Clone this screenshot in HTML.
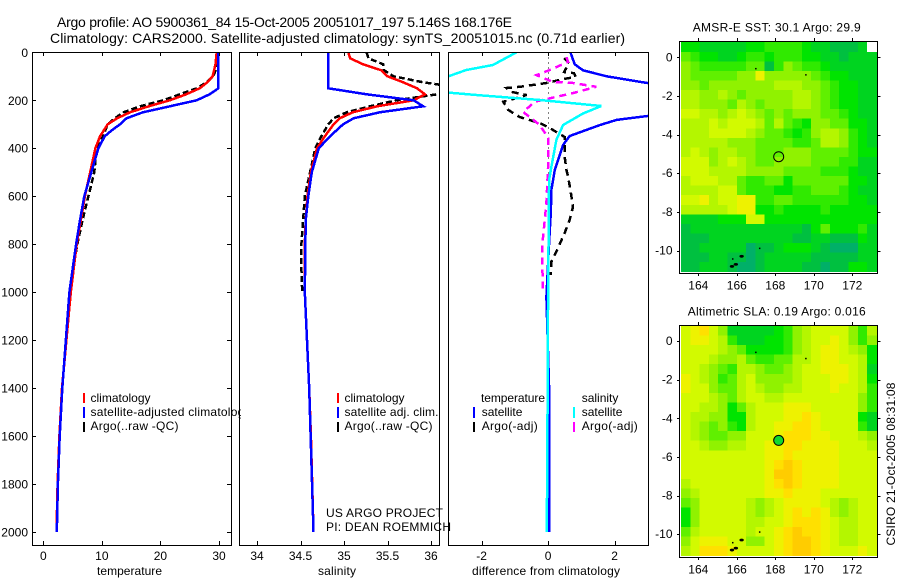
<!DOCTYPE html>
<html lang="en">
<head>
<meta charset="utf-8">
<title>Argo profile 5900361_84</title>
<style>
html,body{margin:0;padding:0;background:#fff;}
#figure{display:block;width:900px;height:580px;}
text{font-family:"Liberation Sans",sans-serif;font-size:12px;fill:#000;}
.title{font-size:14px;}
.frame{fill:none;stroke:#000;stroke-width:1;shape-rendering:crispEdges;}
.bg{fill:#fff;stroke:none;}
.tick{stroke:#000;stroke-width:1;shape-rendering:crispEdges;}
.line{fill:none;stroke-width:2.5;shape-rendering:crispEdges;stroke-linejoin:miter;}
.mark{stroke-width:2;shape-rendering:crispEdges;}
</style>
</head>
<body>
<svg id="figure" xmlns="http://www.w3.org/2000/svg" width="900" height="580" viewBox="0 0 900 580">
  <defs>
    <clipPath id="clip-p1"><rect x="32" y="52" width="199" height="493"/></clipPath>
    <clipPath id="clip-p2"><rect x="239.5" y="52" width="199.5" height="493"/></clipPath>
    <clipPath id="clip-p3"><rect x="448.5" y="52" width="200" height="493"/></clipPath>
    <clipPath id="clip-legend1"><rect x="80" y="385" width="161" height="55"/></clipPath>
  </defs>
  <rect x="0" y="0" width="900" height="580" fill="#fff"/>

  <text class="title" x="57" y="27" textLength="455">Argo profile: AO 5900361_84 15-Oct-2005 20051017_197 5.146S 168.176E</text>
  <text class="title" x="50" y="43" textLength="575">Climatology: CARS2000. Satellite-adjusted climatology: synTS_20051015.nc (0.71d earlier)</text>

  <g id="panel-temperature">
    <g id="p1-lines" clip-path="url(#clip-p1)"></g>
    <g id="p1-ticks"></g>
    <rect class="frame" x="32.5" y="52.5" width="199" height="493"/>
    <text x="97" y="575" textLength="65">temperature</text>
  </g>

  <g id="panel-salinity">
    <rect class="bg" x="239.5" y="52" width="200" height="493"/>
    <g id="p2-lines" clip-path="url(#clip-p2)"></g>
    <g id="p2-ticks"></g>
    <rect class="frame" x="239.5" y="52.5" width="200" height="493"/>
    <text x="318" y="575" textLength="38">salinity</text>
  </g>

  <g id="panel-difference">
    <rect class="bg" x="448.5" y="52" width="200" height="493"/>
    <g id="p3-lines" clip-path="url(#clip-p3)"></g>
    <g id="p3-ticks"></g>
    <rect class="frame" x="448.5" y="52.5" width="200" height="493"/>
    <text x="472" y="575" textLength="148">difference from climatology</text>
  </g>

  <g>
    <line class="mark" x1="84" y1="393" x2="84" y2="403" stroke="#f00"/>
    <line class="mark" x1="84" y1="407" x2="84" y2="418" stroke="#00f"/>
    <line class="mark" x1="84" y1="422" x2="84" y2="432" stroke="#000"/>
    <text x="90.5" y="402">climatology</text>
    <g clip-path="url(#clip-legend1)">
      <text x="90.5" y="416" textLength="160">satellite-adjusted climatology</text>
    </g>
    <text x="90.5" y="430" textLength="88">Argo(..raw -QC)</text>
  </g>

  <g>
    <line class="mark" x1="338" y1="393" x2="338" y2="403" stroke="#f00"/>
    <line class="mark" x1="338" y1="407" x2="338" y2="418" stroke="#00f"/>
    <line class="mark" x1="338" y1="422" x2="338" y2="432" stroke="#000"/>
    <text x="344.5" y="402">climatology</text>
    <text x="344.5" y="416" textLength="94">satellite adj. clim.</text>
    <text x="344.5" y="430" textLength="88">Argo(..raw -QC)</text>
    <text x="326" y="517" textLength="117">US ARGO PROJECT</text>
    <text x="326" y="531" textLength="125">PI: DEAN ROEMMICH</text>
  </g>

  <g>
    <text x="481" y="402" textLength="64">temperature</text>
    <line class="mark" x1="474" y1="407" x2="474" y2="418" stroke="#00f"/>
    <line class="mark" x1="474" y1="422" x2="474" y2="432" stroke="#000"/>
    <text x="481.7" y="416">satellite</text>
    <text x="481.7" y="430" textLength="56">Argo(-adj)</text>
    <text x="581.7" y="402">salinity</text>
    <line class="mark" x1="574" y1="407" x2="574" y2="418" stroke="#0ff"/>
    <line class="mark" x1="574" y1="422" x2="574" y2="432" stroke="#f0f"/>
    <text x="581.7" y="416">satellite</text>
    <text x="581.7" y="430" textLength="56">Argo(-adj)</text>
  </g>

  <text x="692.7" y="31.5" textLength="168">AMSR-E SST: 30.1 Argo: 29.9</text>
  <g id="map-sst"></g>
  <text x="687.7" y="315.5" textLength="178">Altimetric SLA: 0.19 Argo: 0.016</text>
  <g id="map-sla"></g>
  <text transform="translate(895,545.5) rotate(-90)" textLength="163">CSIRO 21-Oct-2005 08:31:08</text>
</svg>

<script>
// ---- depth axis ----
const depthTicks = [0, 200, 400, 600, 800, 1000, 1200, 1400, 1600, 1800, 2000];
const tempTicks = [0, 10, 20, 30];
const salTicks = [34, 34.5, 35, 35.5, 36];
const salTickLabels = ['34', '34.5', '35', '35.5', '36'];
const diffTicks = [-2, 0, 2];

// ---- temperature panel ----
const tempClimDepth = [0, 50, 100, 125, 150, 175, 200, 225, 250, 275, 300, 350, 400, 500, 600, 700, 800, 1000, 1400, 1600, 1800, 2000];
const tempClim = [29.6, 29.4, 28.9, 28.0, 26.7, 24.4, 21.6, 18.0, 14.8, 12.6, 11.0, 9.7, 8.9, 8.0, 7.1, 6.4, 5.7, 4.7, 3.2, 2.75, 2.45, 2.25];
const tempSatDepth = [0, 150, 175, 200, 225, 250, 275, 300, 325, 350, 400, 500, 600, 700, 800, 1000, 1400, 1600, 1800, 2000];
const tempSat = [29.9, 29.9, 28.4, 26.2, 21.6, 17.0, 14.2, 13.1, 11.7, 10.5, 9.4, 8.2, 7.0, 6.26, 5.6, 4.45, 3.25, 2.8, 2.5, 2.3];
const tempArgoDepth = [0, 60, 100, 125, 150, 175, 200, 225, 250, 275, 300, 350, 400, 500, 600, 700, 800, 930];
const tempArgo = [29.8, 29.7, 29.0, 27.9, 26.2, 23.3, 20.5, 16.5, 13.7, 12.2, 11.0, 10.2, 9.1, 8.7, 7.7, 6.7, 5.8, 4.9];

// ---- salinity panel ----
const salClimDepth = [0, 25, 50, 75, 100, 125, 150, 175, 200, 225, 250, 275, 300, 350, 400, 500, 600, 700, 800, 1000, 1400, 1600, 2000];
const salClim = [35.05, 35.07, 35.22, 35.43, 35.5, 35.68, 35.84, 35.93, 35.8, 35.38, 35.1, 34.95, 34.88, 34.78, 34.69, 34.62, 34.58, 34.56, 34.55, 34.55, 34.6, 34.62, 34.65];
const salSatDepth = [0, 150, 175, 200, 225, 250, 275, 300, 350, 400, 500, 600, 700, 1000, 1400, 2000];
const salSat = [34.82, 34.82, 35.26, 35.8, 35.91, 35.41, 35.11, 34.99, 34.84, 34.71, 34.63, 34.59, 34.56, 34.55, 34.6, 34.65];
const salArgoDepth = [0, 25, 50, 75, 100, 125, 135, 150, 175, 200, 225, 250, 275, 300, 350, 400, 500, 600, 700, 800, 900, 1000];
const salArgo = [35.26, 35.28, 35.45, 35.46, 35.57, 35.91, 36.1, 36.3, 36.07, 35.6, 35.3, 35.03, 34.88, 34.82, 34.74, 34.67, 34.61, 34.55, 34.53, 34.51, 34.51, 34.52];

// ---- difference panel ----
const diffTempSatDepth = [0, 50, 75, 100, 125, 150, 200, 265, 282, 303, 349, 386, 490, 532, 573, 670, 740, 878, 1020, 1400, 2000];
const diffTempSat = [0.67, 0.8, 1.05, 1.76, 2.85, 4.0, 4.0, 3.01, 2.06, 1.56, 0.65, 0.45, 0.2, 0.15, 0.1, 0.08, 0.05, 0, -0.05, 0.03, 0.03];
const diffSalSatDepth = [0, 53, 74, 100, 125, 150, 168, 178, 199, 224, 255, 303, 365, 477, 532, 1000, 1600, 2000];
const diffSalSat = [-0.95, -1.66, -2.46, -3.0, -4.0, -4.0, -3.0, -2.16, -0.25, 1.6, 1.05, 0.45, 0.25, 0.1, 0.03, 0, -0.02, -0.04];
const diffTempArgoDepth = [24, 45, 82, 87, 103, 111, 128, 136, 144, 149, 165, 178, 199, 206, 240, 270, 295, 316, 353, 436, 490, 519, 573, 644, 698, 753, 815, 873, 928];
const diffTempArgo = [0.48, 0.63, 0.48, 0.78, 0.83, 0.48, -0.05, -0.45, -0.85, -1.25, -1.1, -0.65, -1.15, -1.35, -1.2, -0.85, -0.25, 0.05, 0.5, 0.5, 0.55, 0.6, 0.67, 0.75, 0.65, 0.5, 0.3, 0.1, 0.08];
const diffSalArgoDepth = [20, 40, 74, 95, 124, 128, 144, 170, 206, 249, 270, 303, 357, 477, 628, 727, 811, 907, 997];
const diffSalArgo = [0.55, 0.6, 0.05, -0.35, 0.15, 0.75, 1.45, 0.75, -0.4, -0.75, -0.55, -0.25, 0, 0, -0.05, -0.12, -0.18, -0.17, -0.15];

// ---- maps ----
const mapLonTicks = [164, 166, 168, 170, 172];
const mapLatTicks = [0, -2, -4, -6, -8, -10];
const mapLonEdges = [163.1, 173.25];
const mapLatEdges = [0.78, -11.1];
const floatLon = 168.176;
const floatLat = -5.146;
const coastDotsLon = [166.95, 169.55, 165.75, 167.15];
const coastDotsLat = [-0.55, -0.87, -10.4, -9.85];
const islandLon = [165.75, 165.95, 166.25];
const islandLat = [-10.82, -10.72, -10.3];
const levelColors = ['#00b068', '#00c040', '#00d420', '#00e400', '#30ea00', '#60f000', '#90f200', '#b4f600', '#d2fa00', '#eef200', '#ffe000', '#ffcc00'];
const sstGrid = [
'33222223344443221112-',
'543322344344433221222',
'654444455146544322222',
'655555669666665433222',
'665666666677766543322',
'776676566666776543322',
'776665765666776543322',
'887767876565666554322',
'777878887575436655332',
'777888876554346776432',
'777776665555445776432',
'787677665556665555433',
'888678765566665554422',
'888777766665555444322',
'788877544553555555332',
'777788544433445554322',
'889788994455444444332',
'777778993343333433333',
'222233388333333333333',
'122222222222213533342',
'111222222222112211132',
'112222201123332100022',
'111221101222221111122',
'112221001222211011332'
];
const slaGrid = [
'89a862222234678888647',
'899874222334678898646',
'888876533334678998763',
'888766754455778998873',
'887654776556788999872',
'987645786666788899873',
'988655787667788898874',
'888765788778888888864',
'887763578889998888864',
'8776633788899a9888832',
'876564378899aa9888842',
'87655668889aaa9988876',
'88766778899aa99998887',
'88888888899a999998888',
'8888888889aba99998888',
'8888888889bba99998888',
'7888888889aba99998888',
'67888888899a999888888',
'568888876789999876788',
'368888876789a9a976788',
'368888877889aaa987788',
'57888887889abaa987788',
'68999886689abba987788',
'78aaa988889abba988898'
];

// ---- scales ----
function scale(d0, d1, r0, r1) {
  return function (v) { return r0 + (v - d0) * (r1 - r0) / (d1 - d0); };
}
const yDepth = scale(0, 2000, 52.3, 532);
const xTemp = scale(0, 30, 43.3, 219);
const xSal = scale(34, 36, 257, 431);
const xDiff = scale(-2, 2, 481.6, 614.6);

const NS = 'http://www.w3.org/2000/svg';
function make(tag, parent, attrs) {
  const el = document.createElementNS(NS, tag);
  for (const k in attrs) { el.setAttribute(k, attrs[k]); }
  parent.appendChild(el);
  return el;
}

function drawLine(parentId, xs, depths, xScale, color, dash, name) {
  const pts = xs.map(function (v, i) { return xScale(v).toFixed(1) + ',' + yDepth(depths[i]).toFixed(1); }).join(' ');
  const el = make('polyline', document.getElementById(parentId), { 'class': 'line', points: pts, stroke: color });
  if (dash) { el.setAttribute('stroke-dasharray', dash); }
  
  
}

function drawXAxis(parentId, ticks, labels, xScale) {
  const p = document.getElementById(parentId);
  ticks.forEach(function (t, i) {
    const x = Math.round(xScale(t)) + 0.5;
    const top = make('line', p, { 'class': 'tick', x1: x, x2: x, y1: 52, y2: 56 });
    
    
    const bot = make('line', p, { 'class': 'tick', x1: x, x2: x, y1: 541, y2: 545 });
    
    
    const lab = make('text', p, { x: xScale(t), y: 560, 'text-anchor': 'middle' });
    lab.textContent = String(labels[i]);
    
    
  });
}

function drawDepthAxis(parentId) {
  const p = document.getElementById(parentId);
  depthTicks.forEach(function (d) {
    const y = Math.round(yDepth(d)) + 0.5;
    const l = make('line', p, { 'class': 'tick', x1: 32, x2: 36, y1: y, y2: y });
    
    
    const r = make('line', p, { 'class': 'tick', x1: 227, x2: 231, y1: y, y2: y });
    
    
    const lab = make('text', p, { x: 28, y: yDepth(d) + 4.5, 'text-anchor': 'end' });
    lab.textContent = String(d);
    
    
  });
}

// ---- profile panels ----
drawLine('p1-lines', tempArgo, tempArgoDepth, xTemp, '#000', '6 3', 'temperature-argo-line');
drawLine('p1-lines', tempClim, tempClimDepth, xTemp, '#f00', null, 'temperature-climatology-line');
drawLine('p1-lines', tempSat, tempSatDepth, xTemp, '#00f', null, 'temperature-satellite-line');
drawDepthAxis('p1-ticks');
drawXAxis('p1-ticks', tempTicks, tempTicks, xTemp);

drawLine('p2-lines', salArgo, salArgoDepth, xSal, '#000', '6 3', 'salinity-argo-line');
drawLine('p2-lines', salClim, salClimDepth, xSal, '#f00', null, 'salinity-climatology-line');
drawLine('p2-lines', salSat, salSatDepth, xSal, '#00f', null, 'salinity-satellite-line');
drawXAxis('p2-ticks', salTicks, salTickLabels, xSal);

const zeroX = Math.floor(xDiff(0)) + 0.5;
const zeroLine = make('line', document.getElementById('p3-lines'), { x1: zeroX, x2: zeroX, y1: yDepth(0), y2: yDepth(2000), stroke: '#000', 'stroke-width': 1, 'stroke-dasharray': '1 4', 'shape-rendering': 'crispEdges' });


drawLine('p3-lines', diffTempSat, diffTempSatDepth, xDiff, '#00f', null, 'difference-temperature-satellite-line');
drawLine('p3-lines', diffTempArgo, diffTempArgoDepth, xDiff, '#000', '7 5', 'difference-temperature-argo-line');
drawLine('p3-lines', diffSalArgo, diffSalArgoDepth, xDiff, '#f0f', '7 5', 'difference-salinity-argo-line');
drawLine('p3-lines', diffSalSat, diffSalSatDepth, xDiff, '#0ff', null, 'difference-salinity-satellite-line');
drawXAxis('p3-ticks', diffTicks, diffTicks, xDiff);

// ---- maps ----
function drawMap(groupId, grid, top, bottom, lat0Y, prefix, filledMarker) {
  const g = document.getElementById(groupId);
  const left = 680, right = 877.5;
  const xLon = scale(164, 172, 698.3, 852.3);
  const yLat = scale(0, -10, lat0Y, lat0Y + 193.2);
  const nRows = grid.length;
  const cellH = (yLat(mapLatEdges[1]) - yLat(mapLatEdges[0])) / nRows;
  const nCols = grid[0].length;
  const cellW = (xLon(mapLonEdges[1]) - xLon(mapLonEdges[0])) / nCols;
  grid.forEach(function (row, r) {
    row.split('').forEach(function (ch, c) {
      const level = parseInt(ch, 16);
      const cell = make('rect', g, {
        x: (xLon(mapLonEdges[0]) + c * cellW).toFixed(2),
        y: (yLat(mapLatEdges[0]) + r * cellH).toFixed(2),
        width: (cellW + 0.4).toFixed(2),
        height: (cellH + 0.4).toFixed(2),
        fill: isNaN(level) ? '#fff' : levelColors[level],
        'shape-rendering': 'crispEdges'
      });
      
      
    });
  });
  coastDotsLon.forEach(function (lon, i) {
    const dot = make('rect', g, { x: xLon(lon), y: yLat(coastDotsLat[i]), width: 1.5, height: 1.5, fill: '#000' });
    
    
  });
  islandLon.forEach(function (lon, i) {
    const isl = make('ellipse', g, { cx: xLon(lon), cy: yLat(islandLat[i]), rx: 2.2, ry: 1.4, fill: '#000' });
    
    
  });
  const frame = make('rect', g, { 'class': 'frame', x: left - 0.5, y: top + 0.5, width: right - left + 0.5, height: bottom - top });
  
  
  mapLonTicks.forEach(function (t) {
    const x = Math.round(xLon(t)) + 0.5;
    const a = make('line', g, { 'class': 'tick', x1: x, x2: x, y1: top - 3, y2: top });
    
    
    const b = make('line', g, { 'class': 'tick', x1: x, x2: x, y1: bottom, y2: bottom + 3 });
    
    
    const lab = make('text', g, { x: xLon(t), y: bottom + 16.5, 'text-anchor': 'middle' });
    lab.textContent = String(t);
    
    
  });
  mapLatTicks.forEach(function (t) {
    const y = Math.round(yLat(t)) + 0.5;
    const a = make('line', g, { 'class': 'tick', x1: left - 3, x2: left, y1: y, y2: y });
    
    
    const b = make('line', g, { 'class': 'tick', x1: right, x2: right + 3, y1: y, y2: y });
    
    
    const lab = make('text', g, { x: 672.5, y: yLat(t) + 4, 'text-anchor': 'end' });
    lab.textContent = String(t);
    
    
  });
  const marker = make('circle', g, { cx: xLon(floatLon), cy: yLat(floatLat), r: 5, fill: filledMarker || 'none', stroke: '#000', 'stroke-width': 1 });
  
  
}
drawMap('map-sst', sstGrid, 41, 273, 57.3, 'sst', null);
drawMap('map-sla', slaGrid, 325, 557, 341, 'sla', '#10d830');
</script>
</body>
</html>
